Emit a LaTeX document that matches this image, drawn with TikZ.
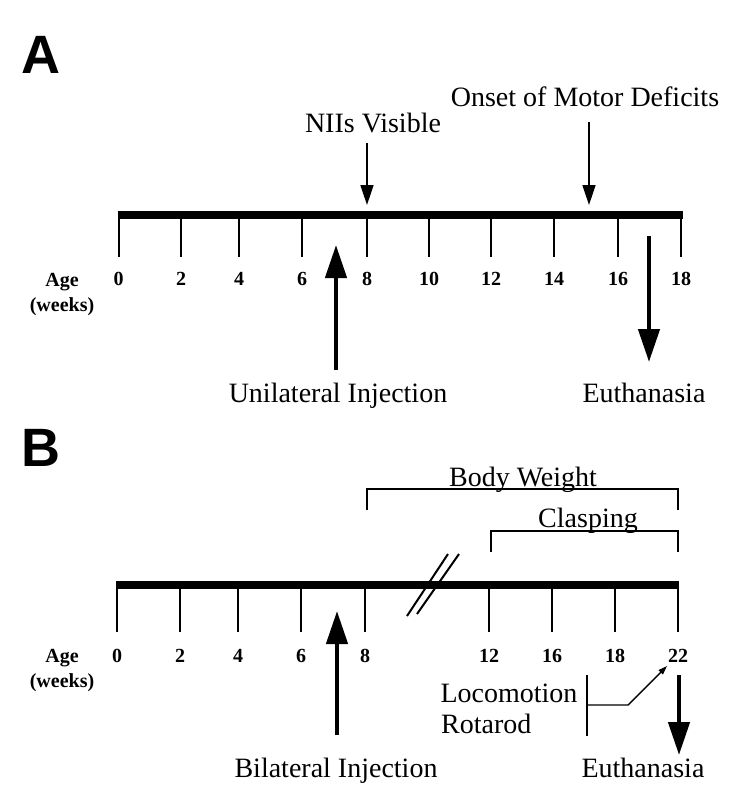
\documentclass[tikz,border=0pt]{standalone}
\usepackage{fontspec}
\setmainfont{Liberation Serif}
\newfontfamily\panelfont{Liberation Sans}
\usetikzlibrary{arrows.meta}

\tikzset{
  bar/.style={line width=8.5pt},
  tickline/.style={line width=2.4pt},
  weeklabel/.style={font=\fontsize{20}{24}\selectfont\bfseries,anchor=base,inner sep=0pt},
  event/.style={font=\fontsize{28}{30}\selectfont,anchor=base,inner sep=0pt},
  panel/.style={font=\panelfont\bfseries\fontsize{54}{54}\selectfont,anchor=base,inner sep=0pt},
  pointer/.style={-{Triangle[length=20pt,width=13pt]},line width=1.6pt},
  bigpointer/.style={-{Triangle[length=33pt,width=21pt]},line width=4.5pt},
  smallpointer/.style={-{Triangle[length=9pt,width=6pt]},line width=1.4pt},
  bracket/.style={line width=2pt},
}

\begin{document}
\begin{tikzpicture}[x=1pt,y=-1pt]
\useasboundingbox (0,0) rectangle (750,796);

\node[panel] (pA) at (41,73) {A};
\coordinate (A0) at (117.5,215);
\coordinate (A18) at (683,215);
\draw[bar] (A0)--(A18);
\foreach \x/\w in {118.7/0,181/2,239/4,302/6,367/8,429/10,491/12,554/14,618/16,681/18}
{
  \draw[tickline] (\x,215)--(\x,257);
  \node[weeklabel] (a\w) at (\x,285) {\w};
}
\node[weeklabel] (ageA) at (62,286) {Age};
\node[weeklabel] (weeksA) at (62,311) {(weeks)};

\node[event] (nii) at (373,132) {NIIs Visible};
\coordinate (niiTop) at (367,143);
\coordinate (niiTip) at (367,205);
\draw[pointer] (niiTop)--(niiTip);

\node[event] (onset) at (585,106) {Onset of Motor Deficits};
\coordinate (onsetTop) at (589,122);
\coordinate (onsetTip) at (589,205);
\draw[pointer] (onsetTop)--(onsetTip);

\node[event] (uni) at (338,402) {Unilateral Injection};
\coordinate (uniEnd) at (336,370);
\coordinate (uniTip) at (336,245);
\draw[bigpointer] (uniEnd)--(uniTip);

\node[event] (euthA) at (644,402) {Euthanasia};
\coordinate (euthATop) at (649,236);
\coordinate (euthATip) at (649,362);
\draw[bigpointer] (euthATop)--(euthATip);

\node[panel] (pB) at (41,466) {B};
\coordinate (B0) at (116,585);
\coordinate (B22) at (679,585);
\draw[bar] (B0)--(B22);
\foreach \x/\w in {117/0,180/2,238/4,301/6,365/8,489/12,552/16,615/18,678/22}
{
  \draw[tickline] (\x,585)--(\x,632);
  \node[weeklabel] (b\w) at (\x,662) {\w};
}
\node[weeklabel] (ageB) at (62,662) {Age};
\node[weeklabel] (weeksB) at (62,687) {(weeks)};

\coordinate (brk1a) at (407,616);
\coordinate (brk1b) at (448,554);
\coordinate (brk2a) at (417,614);
\coordinate (brk2b) at (459,554);
\draw[bracket] (brk1a)--(brk1b);
\draw[bracket] (brk2a)--(brk2b);

\node[event] (weight) at (523,486) {Body Weight};
\draw[bracket] (367,510)--(367,489)--(678,489)--(678,510);
\node[event] (clasp) at (588,527) {Clasping};
\draw[bracket] (491,552)--(491,531)--(678,531)--(678,552);

\node[event] (loco) at (509,702) {Locomotion};
\node[event,anchor=base west] (rota) at (441,733) {Rotarod};
\coordinate (locoTop) at (587,675);
\coordinate (locoBot) at (587,736);
\coordinate (locoMid) at (587,705);
\coordinate (locoBend) at (628,705);
\coordinate (locoTip) at (667,666);
\draw[line width=2pt] (locoTop)--(locoBot);
\draw[smallpointer] (locoMid)--(locoBend)--(locoTip);

\node[event] (bi) at (336,777) {Bilateral Injection};
\coordinate (biEnd) at (337,735);
\coordinate (biTip) at (337,611);
\draw[bigpointer] (biEnd)--(biTip);

\node[event] (euthB) at (643,777) {Euthanasia};
\coordinate (euthBTop) at (679,675);
\coordinate (euthBTip) at (679,755);
\draw[bigpointer] (euthBTop)--(euthBTip);
\end{tikzpicture}
\end{document}
